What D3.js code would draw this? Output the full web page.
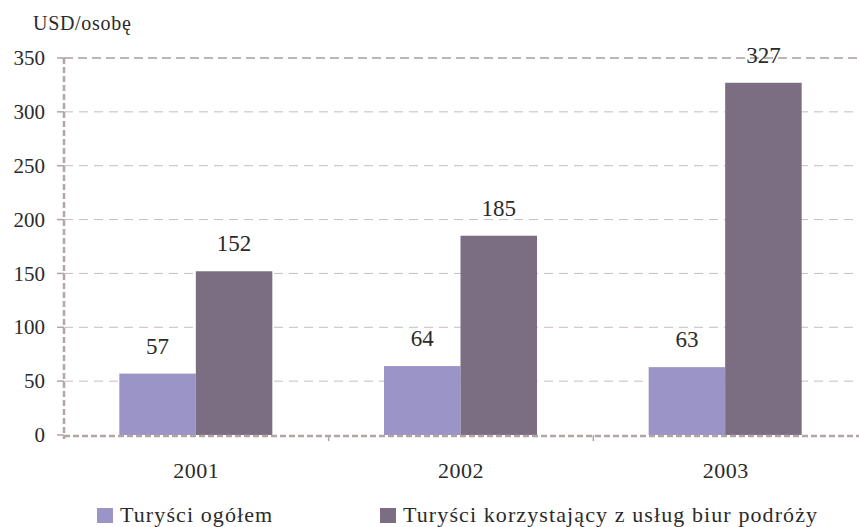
<!DOCTYPE html>
<html><head><meta charset="utf-8">
<script src="https://cdn.jsdelivr.net/npm/d3@7"></script>
<style>body{margin:0;background:#fff}</style>
</head><body>
<svg id="c" width="859" height="527"></svg>
<script>
const categories = ["2001","2002","2003"];
const seriesNames = ["Turyści ogółem","Turyści korzystający z usług biur podróży"];
const seriesTotal = [57,64,63];
const seriesAgency = [152,185,327];
const yTicks = [0,50,100,150,200,250,300,350];
const colors = ["#9b94c6","#7b6e82"];
const FONT = "Liberation Serif";

const svg = d3.select("#c");
const m = {l:64, t:58, r:858, b:435};
const x = d3.scaleBand().domain(categories).range([m.l,m.r]).paddingInner(0).paddingOuter(0);
const x1 = d3.scaleBand().domain([0,1]).range([0,153]);
const y = d3.scaleLinear().domain([0,350]).range([m.b,m.t]);
const grid = "#c9bcbc";
const txt = sel => sel.attr("font-family",FONT).attr("fill","#2a2a2a");

svg.append("g").selectAll("line").data(yTicks.filter(d=>d>0 && d<350)).join("line")
  .attr("x1",m.l).attr("x2",859).attr("y1",d=>y(d)).attr("y2",d=>y(d))
  .attr("stroke",grid).attr("stroke-width",1).attr("stroke-dasharray","9,6");
svg.append("line").attr("x1",m.l).attr("x2",859).attr("y1",y(350)).attr("y2",y(350))
  .attr("stroke","#c2b4b4").attr("stroke-width",2).attr("stroke-dasharray","9,5");

const data = categories.map((c,i)=>({c, v:[seriesTotal[i],seriesAgency[i]]}));
const g = svg.append("g");
data.forEach(d=>{
  const cx = x(d.c)+x.bandwidth()/2 - 77;
  d.v.forEach((v,j)=>{
    g.append("rect").attr("x",cx+x1(j)).attr("width",x1.bandwidth())
      .attr("y",y(v)).attr("height",y(0)-y(v)).attr("fill",colors[j]);
    g.append("text").call(txt).attr("x",cx+x1(j)+x1.bandwidth()/2).attr("y",y(v)-20)
      .attr("text-anchor","middle").attr("font-size",23).text(v);
  });
});

svg.append("line").attr("x1",m.l).attr("x2",m.l).attr("y1",m.t).attr("y2",m.b+4)
  .attr("stroke","#b3a5a5").attr("stroke-width",2.5).attr("stroke-dasharray","6,3");
const ya = svg.append("g");
yTicks.forEach(t=>{
  ya.append("line").attr("x1",m.l-7).attr("x2",m.l).attr("y1",y(t)).attr("y2",y(t)).attr("stroke","#b3a5a5").attr("stroke-width",1.5);
  ya.append("text").call(txt).attr("x",45).attr("y",y(t)).attr("dy","0.34em").attr("text-anchor","end").attr("font-size",21).text(t);
});
svg.append("line").attr("x1",m.l).attr("x2",859).attr("y1",m.b+1).attr("y2",m.b+1)
  .attr("stroke","#b3a5a5").attr("stroke-width",2.5).attr("stroke-dasharray","6,3");
categories.slice(1).forEach(c=>{
  svg.append("line").attr("x1",x(c)).attr("x2",x(c)).attr("y1",m.b).attr("y2",m.b+6).attr("stroke","#b3a5a5").attr("stroke-width",1.5);
});
categories.forEach(c=>{
  svg.append("text").call(txt).attr("x",x(c)+x.bandwidth()/2).attr("y",478).attr("text-anchor","middle").attr("font-size",22).attr("letter-spacing","0.5").text(c);
});

svg.append("text").call(txt).attr("x",33).attr("y",30).attr("font-size",20).attr("letter-spacing","0.7").text("USD/osobę");

const lg = [{x:97,tx:120},{x:380,tx:403}];
seriesNames.forEach((n,i)=>{
  svg.append("rect").attr("x",lg[i].x).attr("y",508).attr("width",16).attr("height",15).attr("fill",colors[i]);
  svg.append("text").call(txt).attr("x",lg[i].tx).attr("y",522).attr("font-size",22).attr("letter-spacing","1.1").text(n);
});
</script>
</body></html>
